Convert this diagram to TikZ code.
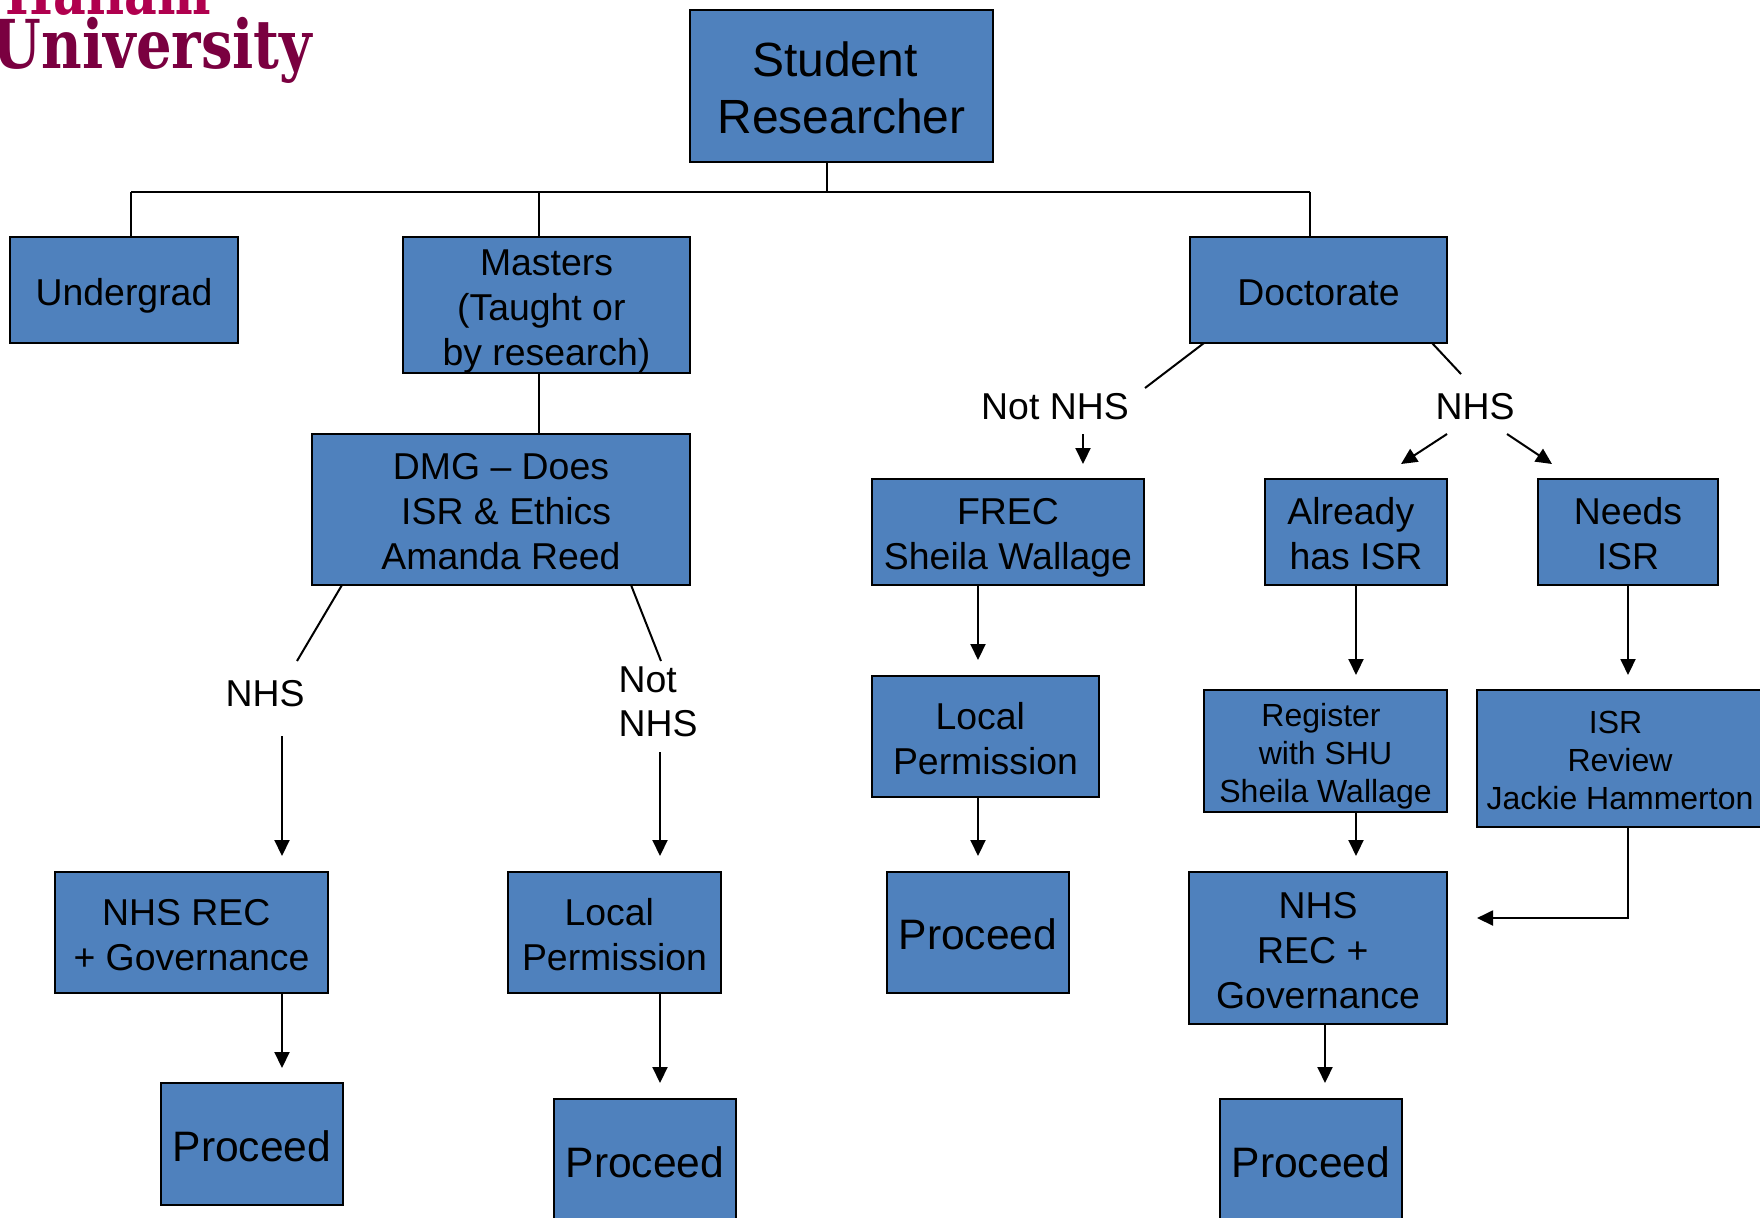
\documentclass[tikz,border=0pt]{standalone}
\usepackage{fontspec}
\setmainfont{Liberation Sans}
\newfontfamily\logofont{DejaVu Serif}[BoldFont={DejaVu Serif Bold}]
\usetikzlibrary{arrows.meta}
\definecolor{boxblue}{HTML}{4F81BD}
\definecolor{logored}{HTML}{B0004E}
\definecolor{logodark}{HTML}{7A0040}
\newcommand{\tsp}{\mbox{\hspace{.278em}}}
\newcommand{\fl}{\rule{0pt}{\dimexpr.73em+1.7pt\relax}}
\tikzset{
  box/.style={draw=black, line width=1pt, fill=boxblue, inner sep=0pt, outer sep=0pt,
    align=center, font=\fontsize{18.7}{22.5}\selectfont, text depth=0pt},
  bigbox/.style={box, font=\fontsize{24}{28.5}\selectfont},
  smallbox/.style={box, font=\fontsize{16}{19}\selectfont},
  donebox/.style={box, font=\fontsize{21.3}{24}\selectfont, minimum width=91pt},
  tag/.style={inner sep=0pt, outer sep=0pt, font=\fontsize{18.7}{22}\selectfont},
  logo/.style={inner sep=0pt, transform shape, font=\logofont\bfseries\fontsize{33.7}{36}\selectfont},
}

\begin{document}
\begin{tikzpicture}
  [x=.5pt, y=-.5pt, line width=1pt, >={Triangle[length=8pt,width=7.5pt]}]
  \useasboundingbox (0, 0) rectangle (1760, 1217);
  \clip (0, 0) rectangle (1760, 1217);

  \node[logo, text=logored, anchor=base west, xscale=.75] (logoTop) at (5, 14) {Hallam};
  \node[logo, text=logodark, anchor=base west, xscale=.83] (logoBottom) at (-8, 68) {University};

  \node[bigbox, minimum width=151.5pt, minimum height=76pt] (nStudent) at (841.5, 86) {\fl Student\tsp\\Researcher};
  \node[box, minimum width=114pt, minimum height=53pt] (nUndergrad) at (124, 290) {\fl Undergrad};
  \node[box, minimum width=143.5pt, minimum height=68pt] (nMasters) at (546.5, 305) {\fl Masters\\(Taught or\tsp\\by research)};
  \node[box, minimum width=189pt, minimum height=75.5pt] (nDmg) at (501, 509.5) {\fl DMG -- Does\\\tsp ISR \& Ethics\\Amanda Reed};
  \node[box, minimum width=128.5pt, minimum height=53pt] (nDoctorate) at (1318.5, 290) {\fl Doctorate};

  \node[box, minimum width=136pt, minimum height=53pt] (nFrec) at (1008, 532) {\fl FREC\\Sheila Wallage};
  \node[box, minimum width=91pt, minimum height=53pt] (nAlready) at (1356, 532) {\fl Already\tsp\\has ISR};
  \node[box, minimum width=90pt, minimum height=53pt] (nNeeds) at (1628, 532) {\fl Needs\\ISR};
  \node[box, minimum width=113.5pt, minimum height=60.5pt] (nLocalB) at (985.5, 736.5) {\fl Local\tsp\\Permission};
  \node[smallbox, minimum width=121.5pt, minimum height=61pt] (nRegister) at (1325.5, 751) {\fl Register\tsp\\with SHU\\Sheila Wallage};
  \node[smallbox, minimum width=143pt, minimum height=68.5pt] (nReview) at (1620, 758.5) {\fl ISR\tsp\\Review\\Jackie Hammerton};

  \node[box, minimum width=136.5pt, minimum height=60.5pt] (nRecA) at (191.5, 932.5) {\fl NHS REC\tsp\\+ Governance};
  \node[box, minimum width=106.5pt, minimum height=60.5pt] (nLocalA) at (614.5, 932.5) {\fl Local\tsp\\Permission};
  \node[donebox, minimum height=60.5pt] (nDoneC) at (978, 932.5) {\fl Proceed};
  \node[box, minimum width=129pt, minimum height=76pt] (nRecB) at (1318, 948) {\fl NHS\\REC +\tsp\\Governance};

  \node[donebox, minimum height=61pt] (nDoneA) at (252, 1144) {\fl Proceed};
  \node[donebox, minimum height=61.5pt] (nDoneB) at (645, 1160.5) {\fl Proceed};
  \node[donebox, minimum height=61.5pt] (nDoneD) at (1311, 1160.5) {\fl Proceed};

  \node[tag] (tNhsA) at (265, 694) {NHS};
  \node[tag, align=left] (tNotA) at (658, 702) {Not\\NHS};
  \node[tag] (tNotB) at (1055, 407) {Not NHS};
  \node[tag] (tNhsB) at (1475, 407) {NHS};

  % tree under the top box
  \coordinate (jTop) at (827, 192);
  \coordinate (jLeft) at (131, 192);
  \coordinate (jMid) at (539, 192);
  \coordinate (jRight) at (1310, 192);
  \draw (nStudent.south -| jTop) -- (jTop);
  \draw (jLeft) -- (jRight);
  \foreach \from/\to in {jLeft/nUndergrad,jMid/nMasters,jRight/nDoctorate}
  \draw (\from) -- (\from |- \to.north);
  \draw (nMasters.south -| jMid) -- (jMid |- nDmg.north);

  % slanted lines running up to the labels
  \coordinate (sDocL) at (1204, 343);
  \coordinate (eDocL) at (1145, 388);
  \coordinate (sDocR) at (1432, 343);
  \coordinate (eDocR) at (1461, 374);
  \coordinate (sDmgL) at (342, 585);
  \coordinate (eDmgL) at (297, 661);
  \coordinate (sDmgR) at (631, 585);
  \coordinate (eDmgR) at (661, 661);
  \foreach \from/\to in {sDocL/eDocL,sDocR/eDocR,sDmgL/eDmgL,sDmgR/eDmgR}
  \draw (\from) -- (\to);

  % arrows from the labels
  \coordinate (aNotB) at (1083, 464);
  \coordinate (bNotB) at (1083, 434);
  \coordinate (aNhsL) at (1401, 464);
  \coordinate (bNhsL) at (1447, 434);
  \coordinate (aNhsR) at (1552, 464);
  \coordinate (bNhsR) at (1507, 434);
  \coordinate (aNhsA) at (282, 856);
  \coordinate (bNhsA) at (282, 736);
  \coordinate (aNotA) at (660, 856);
  \coordinate (bNotA) at (660, 752);
  \foreach \from/\to in {bNotB/aNotB,bNhsL/aNhsL,bNhsR/aNhsR,bNhsA/aNhsA,bNotA/aNotA}
  \draw[->] (\from) -- (\to);

  % arrows leaving the boxes, each stops short of the next box
  \coordinate (aFrec) at (978, 660);
  \coordinate (aAlready) at (1356, 675);
  \coordinate (aNeeds) at (1628, 675);
  \coordinate (aLocalB) at (978, 856);
  \coordinate (aRegister) at (1356, 856);
  \coordinate (aRecA) at (282, 1068);
  \coordinate (aLocalA) at (660, 1083);
  \coordinate (aRecB) at (1325, 1083);
  \foreach \from/\to in {nFrec/aFrec,nAlready/aAlready,nNeeds/aNeeds,nLocalB/aLocalB,nRegister/aRegister,nRecA/aRecA,nLocalA/aLocalA,nRecB/aRecB}
  \draw[->] (\from.south -| \to) -- (\to);

  \coordinate (kReview) at (1628, 918);
  \coordinate (aReview) at (1477, 918);
  \draw[->] (nReview.south -| kReview) -- (kReview) -- (aReview);
\end{tikzpicture}
\end{document}
